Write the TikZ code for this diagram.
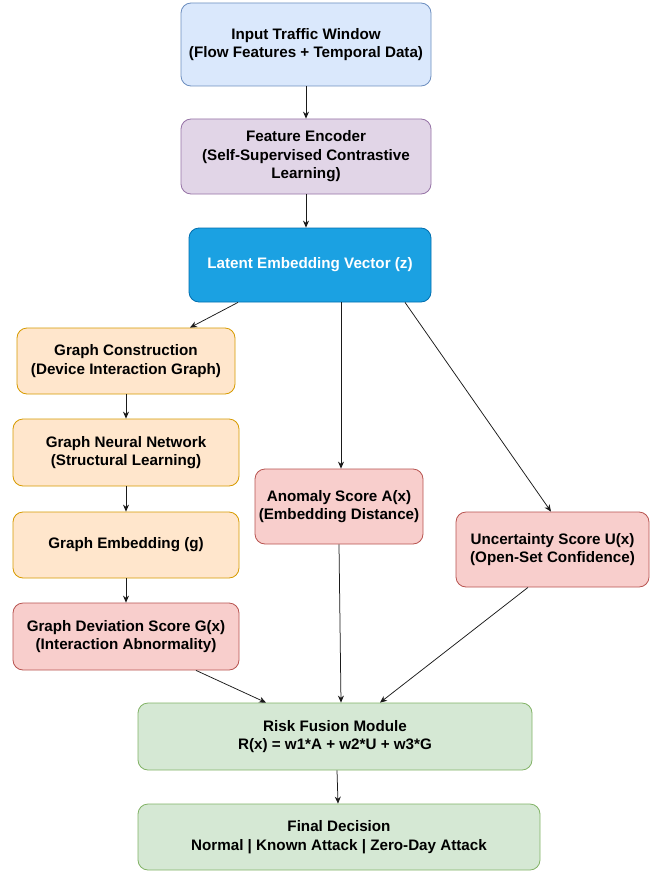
\documentclass[tikz,border=0pt]{standalone}
\usepackage{fontspec}
\setmainfont{Liberation Sans}
\usetikzlibrary{arrows.meta}
\definecolor{bluef}{HTML}{DAE8FC}\definecolor{blues}{HTML}{6C8EBF}
\definecolor{purf}{HTML}{E1D5E7}\definecolor{purs}{HTML}{9673A6}
\definecolor{latf}{HTML}{1BA1E2}\definecolor{lats}{HTML}{006EAF}
\definecolor{orf}{HTML}{FFE6CC}\definecolor{ors}{HTML}{D79B00}
\definecolor{redf}{HTML}{F8CECC}\definecolor{reds}{HTML}{B85450}
\definecolor{grf}{HTML}{D5E8D4}\definecolor{grs}{HTML}{82B366}
\definecolor{linec}{HTML}{1A1A1A}
\tikzset{
  box/.style={draw, line width=0.8pt, rounded corners=10pt, align=center,
    font=\fontsize{15.2}{18.6}\selectfont\bfseries, inner sep=2pt},
  bluebox/.style={box, fill=bluef, draw=blues},
  purbox/.style={box, fill=purf, draw=purs},
  latbox/.style={box, fill=latf, draw=lats, text=white},
  orbox/.style={box, fill=orf, draw=ors},
  redbox/.style={box, fill=redf, draw=reds},
  grbox/.style={box, fill=grf, draw=grs},
  arr/.style={draw=linec, line width=0.75pt, -{Stealth[length=7pt,width=6pt]}}
}
\begin{document}
\begin{tikzpicture}[x=1pt,y=-1pt]
\useasboundingbox[fill=white] (0,0) rectangle (659,872);
\node[bluebox, minimum width=250pt, minimum height=83pt] (in) at (306,44.5)
  {Input Traffic Window\\(Flow Features + Temporal Data)};
\node[purbox, minimum width=250pt, minimum height=75pt] (fe) at (306,156.5)
  {Feature Encoder\\(Self-Supervised Contrastive\\Learning)};
\node[latbox, minimum width=242pt, minimum height=74pt] (lat) at (310,265)
  {Latent Embedding Vector (z)};
\node[orbox, minimum width=218pt, minimum height=66pt] (gc) at (126,361)
  {Graph Construction\\(Device Interaction Graph)};
\node[orbox, minimum width=226pt, minimum height=67pt] (gnn) at (126,452.5)
  {Graph Neural Network\\(Structural Learning)};
\node[orbox, minimum width=226pt, minimum height=66pt] (ge) at (126,545)
  {Graph Embedding (g)};
\node[redbox, minimum width=226pt, minimum height=67pt] (gd) at (126,636.5)
  {Graph Deviation Score G(x)\\(Interaction Abnormality)};
\node[redbox, minimum width=168pt, minimum height=75pt] (an) at (339,506.5)
  {Anomaly Score A(x)\\(Embedding Distance)};
\node[redbox, minimum width=193pt, minimum height=75pt] (un) at (552.5,549.5)
  {Uncertainty Score U(x)\\(Open-Set Confidence)};
\node[grbox, minimum width=394pt, minimum height=67pt] (rf) at (335,736.5)
  {Risk Fusion Module\\R(x) = w1*A + w2*U + w3*G};
\node[grbox, minimum width=402pt, minimum height=66pt] (fd) at (339,837)
  {Final Decision\\Normal | Known Attack | Zero-Day Attack};

\draw[arr] (in.south) -- (fe.north);
\draw[arr] (fe.south) -- (fe.south |- lat.north);
\draw[arr] ([xshift=-72pt]lat.south) -- ([xshift=64pt]gc.north);
\draw[arr] ([xshift=31pt]lat.south) -- ([xshift=2pt]an.north);
\draw[arr] ([xshift=95pt]lat.south) -- ([xshift=-1.5pt]un.north);
\draw[arr] (gc.south) -- (gnn.north);
\draw[arr] (gnn.south) -- (ge.north);
\draw[arr] (ge.south) -- (gd.north);
\draw[arr] ([xshift=70pt]gd.south) -- ([xshift=-69pt]rf.north);
\draw[arr] (an.south) -- ([xshift=6pt]rf.north);
\draw[arr] ([xshift=-24.5pt]un.south) -- ([xshift=45pt]rf.north);
\draw[arr] ([xshift=2pt]rf.south) -- ([xshift=-1pt]fd.north);
\end{tikzpicture}
\end{document}
